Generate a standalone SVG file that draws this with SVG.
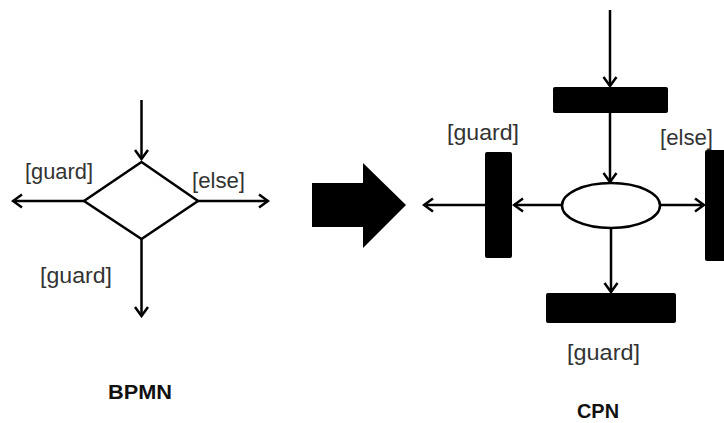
<svg xmlns="http://www.w3.org/2000/svg" width="724" height="423" viewBox="0 0 724 423">
<style>
.ln{stroke:#000;stroke-width:2.5;fill:none}
.bar{fill:#000;stroke:none}
.lbl{font-family:"Liberation Sans",Arial,sans-serif;font-size:22px;fill:#333}
.ttl{font-family:"Liberation Sans",Arial,sans-serif;font-size:21px;font-weight:bold;fill:#111}
</style>
<defs>
<marker id="ah" markerUnits="userSpaceOnUse" viewBox="-12 -9 14 18" markerWidth="14" markerHeight="18" refX="0" refY="0" orient="auto">
<path d="M-9,-6.5 L0,0 L-9,6.5" fill="none" stroke="#000" stroke-width="2.5"/>
</marker>
</defs>
<rect width="724" height="423" fill="#fff"/>
<g id="connectors">
<line class="ln" x1="141.5" y1="100" x2="141.5" y2="159" marker-end="url(#ah)"/>
<line class="ln" x1="84" y1="201" x2="13" y2="201" marker-end="url(#ah)"/>
<line class="ln" x1="197" y1="201" x2="268" y2="201" marker-end="url(#ah)"/>
<line class="ln" x1="141.5" y1="239" x2="141.5" y2="316" marker-end="url(#ah)"/>
<line class="ln" x1="610" y1="10" x2="610" y2="86" marker-end="url(#ah)"/>
<line class="ln" x1="610" y1="113" x2="610" y2="182" marker-end="url(#ah)"/>
<line class="ln" x1="562" y1="205" x2="514" y2="205" marker-end="url(#ah)"/>
<line class="ln" x1="485" y1="205" x2="424" y2="205" marker-end="url(#ah)"/>
<line class="ln" x1="660" y1="205" x2="704" y2="205" marker-end="url(#ah)"/>
<line class="ln" x1="611" y1="228" x2="611" y2="292" marker-end="url(#ah)"/>
</g>
<g id="bpmn-gateway">
<polygon class="ln" points="141.5,162 198,201 141.5,239 84,201" fill="#fff" stroke-width="3"/>
</g>
<g id="bpmn-labels">
<text class="lbl" x="25" y="179" textLength="68" lengthAdjust="spacingAndGlyphs">[guard]</text>
<text class="lbl" x="192" y="188" textLength="53" lengthAdjust="spacingAndGlyphs">[else]</text>
<text class="lbl" x="40" y="283" textLength="72" lengthAdjust="spacingAndGlyphs">[guard]</text>
<text class="ttl" x="108" y="399" textLength="64" lengthAdjust="spacingAndGlyphs">BPMN</text>
</g>
<g id="big-arrow">
<polygon class="bar" points="312,183 363,183 363,163 406,205 363,248 363,227 312,227"/>
</g>
<g id="cpn-top-transition">
<rect class="bar" x="553" y="87" width="115" height="26" rx="2"/>
</g>
<g id="cpn-place">
<ellipse cx="611" cy="205.5" rx="49" ry="22.5" fill="#fff" stroke="#000" stroke-width="2.5"/>
</g>
<g id="cpn-left-transition">
<rect class="bar" x="485" y="152" width="27" height="106" rx="2"/>
<text class="lbl" x="447" y="140" textLength="72" lengthAdjust="spacingAndGlyphs">[guard]</text>
</g>
<g id="cpn-right-transition">
<rect class="bar" x="705" y="150" width="25" height="111" rx="2"/>
<text class="lbl" x="660" y="145" textLength="53" lengthAdjust="spacingAndGlyphs">[else]</text>
</g>
<g id="cpn-bottom-transition">
<rect class="bar" x="546" y="293" width="130" height="30" rx="2"/>
<text class="lbl" x="567" y="360" textLength="73" lengthAdjust="spacingAndGlyphs">[guard]</text>
</g>
<text class="ttl" x="577" y="418" textLength="42" lengthAdjust="spacingAndGlyphs">CPN</text>
</svg>
